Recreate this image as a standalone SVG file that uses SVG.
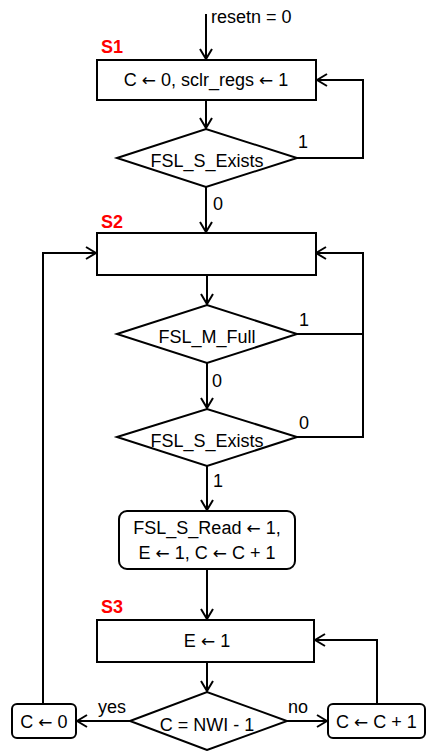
<svg xmlns="http://www.w3.org/2000/svg" width="430" height="751" viewBox="0 0 430 751">
<style>
.box{fill:#fff;stroke:#000;stroke-width:2}
.con{fill:none;stroke:#000;stroke-width:2}
.t{font-family:"Liberation Sans",Arial,sans-serif;font-size:18px;fill:#000}
.m{text-anchor:middle}
.a{font-family:"DejaVu Sans",sans-serif;font-size:17px}
.s{font-family:"Liberation Sans",Arial,sans-serif;font-size:18px;font-weight:bold;fill:#ff0000}
</style>
<defs>
<marker id="ah" viewBox="0 0 12 14" refX="11" refY="7" markerWidth="12" markerHeight="14" markerUnits="userSpaceOnUse" orient="auto">
<path d="M1,1 L11,7 L1,13" fill="none" stroke="#000" stroke-width="2"/>
</marker>
</defs>
<rect width="430" height="751" fill="#fff"/>
<g id="connectors">
<path class="con" d="M206,14 V59" marker-end="url(#ah)"/>
<path class="con" d="M206,100 V128" marker-end="url(#ah)"/>
<path class="con" d="M297,158 H363 V80 H317" marker-end="url(#ah)"/>
<path class="con" d="M206,187 V232" marker-end="url(#ah)"/>
<path class="con" d="M207,275 V304" marker-end="url(#ah)"/>
<path class="con" d="M297,334 H363"/>
<path class="con" d="M297,437 H363 V253 H316" marker-end="url(#ah)"/>
<path class="con" d="M207,363 V408" marker-end="url(#ah)"/>
<path class="con" d="M207,466 V510" marker-end="url(#ah)"/>
<path class="con" d="M207,569 V619" marker-end="url(#ah)"/>
<path class="con" d="M207,662 V691" marker-end="url(#ah)"/>
<path class="con" d="M130,721 H77" marker-end="url(#ah)"/>
<path class="con" d="M287,721 H327" marker-end="url(#ah)"/>
<path class="con" d="M43,704 V253 H96" marker-end="url(#ah)"/>
<path class="con" d="M377,704 V640 H315" marker-end="url(#ah)"/>
<text class="t" x="211" y="23">resetn = 0</text>
<text class="t" x="298" y="148">1</text>
<text class="t" x="213" y="210">0</text>
<text class="t" x="299" y="326">1</text>
<text class="t" x="212" y="387">0</text>
<text class="t" x="299" y="429">0</text>
<text class="t" x="213" y="487">1</text>
<text class="t" x="98" y="713">yes</text>
<text class="t" x="288" y="713">no</text>
</g>
<g id="S1">
<text class="s" x="101" y="53">S1</text>
<rect class="box" x="97" y="60" width="219" height="40"/>
<text class="t m" x="206" y="86">C <tspan class="a">←</tspan> 0, sclr_regs <tspan class="a">←</tspan> 1</text>
</g>
<g id="D1">
<polygon class="box" points="117,158 206,129 297,158 206,187"/>
<text class="t m" x="207" y="167">FSL_S_Exists</text>
</g>
<g id="S2">
<text class="s" x="101" y="228">S2</text>
<rect class="box" x="97" y="233" width="219" height="42"/>
</g>
<g id="D2">
<polygon class="box" points="117,334 207,305 297,334 207,363"/>
<text class="t m" x="207" y="343">FSL_M_Full</text>
</g>
<g id="D3">
<polygon class="box" points="117,437 207,409 297,437 207,466"/>
<text class="t m" x="207" y="447">FSL_S_Exists</text>
</g>
<g id="R1">
<rect class="box" x="119" y="511" width="176" height="58" rx="8"/>
<text class="t m" x="207" y="534">FSL_S_Read <tspan class="a">←</tspan> 1,</text>
<text class="t m" x="207" y="559">E <tspan class="a">←</tspan> 1, C <tspan class="a">←</tspan> C + 1</text>
</g>
<g id="S3">
<text class="s" x="101" y="613">S3</text>
<rect class="box" x="97" y="620" width="217" height="42"/>
<text class="t m" x="207" y="647">E <tspan class="a">←</tspan> 1</text>
</g>
<g id="D4">
<polygon class="box" points="130,721 207,692 287,721 207,750"/>
<text class="t m" x="207" y="731">C = NWI - 1</text>
</g>
<g id="C0">
<rect class="box" x="12" y="704" width="64" height="34" rx="5"/>
<text class="t m" x="44" y="728">C <tspan class="a">←</tspan> 0</text>
</g>
<g id="CInc">
<rect class="box" x="328" y="704" width="97" height="34" rx="5"/>
<text class="t m" x="376.5" y="728">C <tspan class="a">←</tspan> C + 1</text>
</g>
</svg>
